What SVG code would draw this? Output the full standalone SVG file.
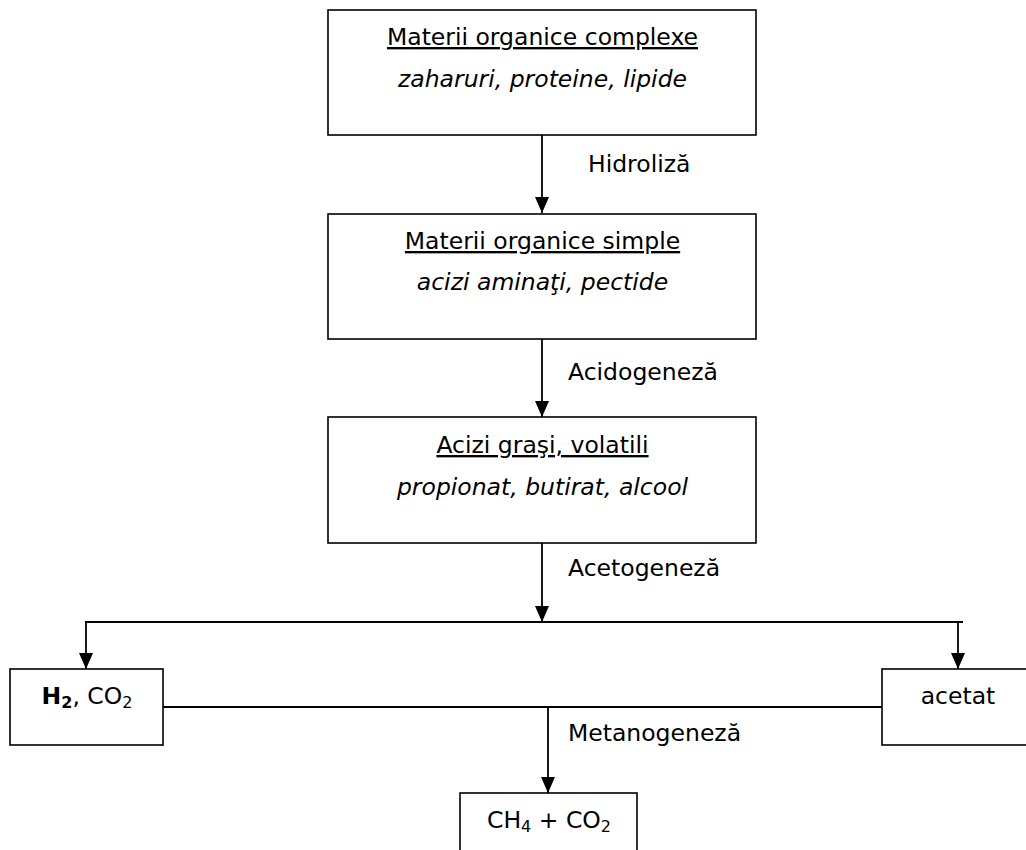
<svg xmlns="http://www.w3.org/2000/svg" width="1026" height="850" viewBox="0 0 1026 850">
<style>
  .box { fill: #fff; stroke: #000; stroke-width: 1.6; }
  .t { font-family: "DejaVu Sans", Verdana, sans-serif; font-size: 23.5px; fill: #000; }
  .c { text-anchor: middle; }
  .u { text-decoration: underline; }
  .i { font-style: italic; }
  .sub { font-size: 16px; }
  .conn { fill: none; stroke: #000; stroke-width: 1.8; }
</style>
<defs>
  <marker id="arr" viewBox="0 0 16 14" refX="16" refY="7" markerWidth="16" markerHeight="14" markerUnits="userSpaceOnUse" orient="auto">
    <path d="M0,0 L16,7 L0,14 z" fill="#000"/>
  </marker>
</defs>
<rect width="1026" height="850" fill="#fff"/>

<g id="connectors">
  <line class="conn" x1="542" y1="135" x2="542" y2="213" marker-end="url(#arr)"/>
  <line class="conn" x1="542" y1="339" x2="542" y2="417" marker-end="url(#arr)"/>
  <line class="conn" x1="542" y1="543" x2="542" y2="622" marker-end="url(#arr)"/>
  <line class="conn" x1="85" y1="622" x2="963" y2="622"/>
  <line class="conn" x1="86" y1="621" x2="86" y2="669" marker-end="url(#arr)"/>
  <line class="conn" x1="958" y1="622" x2="958" y2="669" marker-end="url(#arr)"/>
  <line class="conn" x1="163" y1="707" x2="882" y2="707"/>
  <line class="conn" x1="548" y1="707" x2="548" y2="793" marker-end="url(#arr)"/>
  <text class="t" x="588" y="172">Hidroliză</text>
  <text class="t" x="568" y="380">Acidogeneză</text>
  <text class="t" x="568" y="576">Acetogeneză</text>
  <text class="t" x="568" y="741">Metanogeneză</text>
</g>

<g id="n1">
  <rect class="box" x="328" y="10" width="428" height="125"/>
  <text class="t c u" x="542.5" y="45">Materii organice complexe</text>
  <text class="t c i" x="542.5" y="87">zaharuri, proteine, lipide</text>
</g>

<g id="n2">
  <rect class="box" x="328" y="214" width="428" height="125"/>
  <text class="t c u" x="542.5" y="249">Materii organice simple</text>
  <text class="t c i" x="542.5" y="290">acizi aminaţi, pectide</text>
</g>

<g id="n3">
  <rect class="box" x="328" y="417" width="428" height="126"/>
  <text class="t c u" x="542.5" y="453">Acizi graşi, volatili</text>
  <text class="t c i" x="542.5" y="495">propionat, butirat, alcool</text>
</g>

<g id="n4">
  <rect class="box" x="10" y="669" width="153" height="76"/>
  <text class="t c" x="87" y="704"><tspan font-weight="bold">H<tspan class="sub" dy="4">2</tspan></tspan><tspan dy="-4">, CO</tspan><tspan class="sub" dy="4">2</tspan></text>
</g>

<g id="n5">
  <rect class="box" x="882" y="669" width="152" height="76"/>
  <text class="t c" x="958" y="704">acetat</text>
</g>

<g id="n6">
  <rect class="box" x="460" y="793" width="177" height="70"/>
  <text class="t c" x="549" y="828">CH<tspan class="sub" dy="4">4</tspan><tspan dy="-4"> + CO</tspan><tspan class="sub" dy="4">2</tspan></text>
</g>
</svg>
